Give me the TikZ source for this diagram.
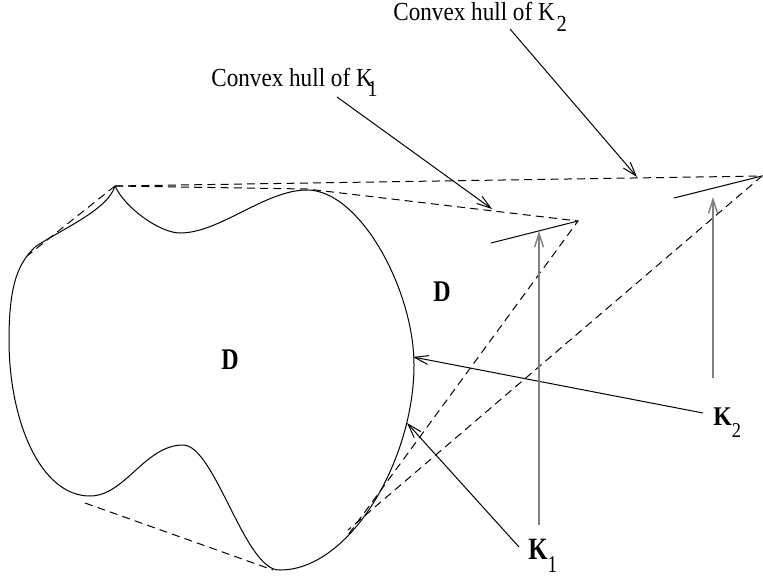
\documentclass[tikz,border=0pt]{standalone}
\usepackage{fontspec}
\setmainfont{Liberation Serif}
\usetikzlibrary{arrows.meta}
\newcommand{\squeeze}[2][0.88]{\scalebox{#1}[1]{#2}}

\begin{document}
\begin{tikzpicture}[
  x=0.5pt,y=-0.5pt,
  outline/.style={line width=0.5pt},
  hull/.style={line width=0.5pt,dash pattern=on 4pt off 2.6pt},
  pointer/.style={-{Straight Barb[length=7pt,width=4.5pt]},line width=0.5pt},
  lift/.style={pointer,draw=black!50,line width=0.7pt},
  caption/.style={anchor=base west,inner sep=0pt,font=\fontsize{13}{15}\selectfont},
  tag/.style={anchor=base west,inner sep=0pt,font=\bfseries},
]
\useasboundingbox (0,0) rectangle (763,577);

% the region D: one boundary with a cusp at the top left
\coordinate (cusp) at (115,186);
\draw[outline] (cusp)
  .. controls (125,208) and (160,233) .. (180,233)
  .. controls (220,233) and (265,190) .. (307,190)
  .. controls (360,190) and (414,290) .. (414,365)
  .. controls (414,460) and (350,570) .. (280,570)
  .. controls (245,572) and (215,445) .. (183,445)
  .. controls (145,445) and (125,496) .. (90,496)
  .. controls (40,496) and (9,420) .. (9,340)
  .. controls (9,280) and (20,262) .. (35,247)
  .. controls (60,230) and (108,210) .. (cusp);

% the two segments and the ends of the hull lines
\coordinate (topD) at (307,189);
\coordinate (onetip) at (578,221);
\coordinate (twotip) at (762,176);
\coordinate (onelow) at (491,243);
\coordinate (twolow) at (674,198);
\draw[outline] (onelow) -- (onetip);
\draw[outline] (twolow) -- (twotip);

% dashed hull boundaries
\draw[hull] (cusp) -- (27,256);
\draw[hull] (85,503) -- (273,570);
\draw[hull] (cusp) -- (topD) -- (onetip) -- (348,535);
\draw[hull] (cusp) -- (twotip) -- (348,530);

% labels
\node[caption] (hullone) at (211,87)
  {\squeeze[0.89]{Convex hull of K\kern-3pt\raisebox{-5pt}{\fontsize{11.5}{13}\selectfont 1}}};
\node[caption] (hulltwo) at (393,21)
  {\squeeze[0.89]{Convex hull of K\kern1pt\raisebox{-5.5pt}{\fontsize{11.5}{13}\selectfont 2}}};
\node[tag,font=\fontsize{15}{17}\selectfont\bfseries] (dinside) at (221,369) {\squeeze[0.8]{D}};
\node[tag,font=\fontsize{15}{17}\selectfont\bfseries] (doutside) at (433,301) {\squeeze[0.8]{D}};
\node[tag,font=\fontsize{15.5}{18}\selectfont\bfseries] (kone) at (528,559)
  {\squeeze[0.8]{K\raisebox{-6.5pt}{\fontsize{12}{14}\selectfont\mdseries 1}}};
\node[tag,font=\fontsize{13.5}{16}\selectfont\bfseries] (ktwo) at (713,425)
  {\squeeze{K\raisebox{-6pt}{\fontsize{10.5}{12}\selectfont\mdseries 2}}};

% arrows from the labels
\coordinate (hullonefrom) at (337,97);
\coordinate (hulltwofrom) at (510,29);
\coordinate (konefrom) at (519,547);
\coordinate (ktwofrom) at (703,413);
\draw[pointer] (hullonefrom) -- (492,209);
\draw[pointer] (hulltwofrom) -- (637,177);
\draw[pointer] (konefrom) -- (407,423);
\draw[pointer] (ktwofrom) -- (413,357);

% the vertical arrows up to the segments
\coordinate (onebase) at (539,525);
\coordinate (twobase) at (713,378);
\draw[lift] (onebase) -- (539,231);
\draw[lift] (twobase) -- (713,197);
\end{tikzpicture}
\end{document}
